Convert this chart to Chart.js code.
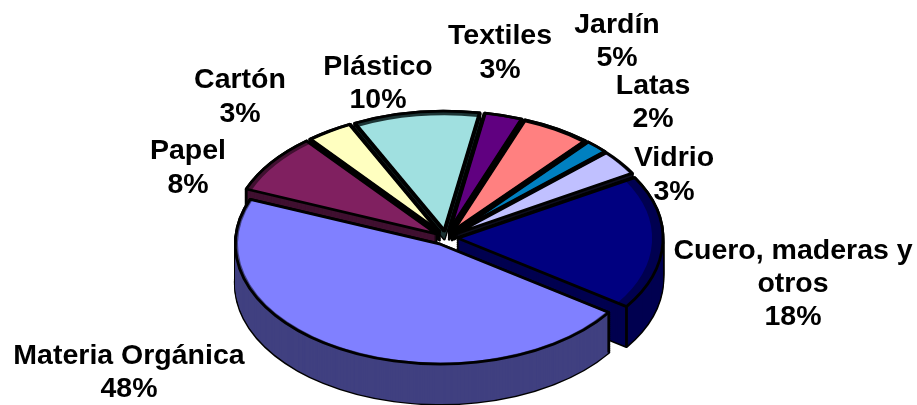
<!DOCTYPE html>
<html><head><meta charset="utf-8">
<style>html,body{margin:0;padding:0;background:#fff}#w{width:917px;height:405px}</style>
<script src="https://cdn.jsdelivr.net/npm/chart.js@4"></script></head>
<body><div id="w"><canvas id="c"></canvas></div>
<script>
const categories = ["Textiles","Jardín","Latas","Vidrio","Cuero, maderas y\notros","Materia Orgánica","Papel","Cartón","Plástico"];
const printedPercent = [3,5,2,3,18,48,8,3,10];
const sliceShares = [3.0,5.5,1.9,3.4,18.1,46.5,8.0,3.7,10.0];
const topColors = ["#600080","#FF8080","#0080C0","#C0C0FF","#000080","#8080FF","#802060","#FFFFC0","#A0E0E0"];
const sideColors = ["#000000","#000000","#000000","#101020","#000050","#404080","#401030","#000000","#1C3434"];
const sideDepths = [8,8,6,3,40,40,40,8,8];
const labelCenters = [[500,36.5],[617,25],[653,86],[674,158.5],[793,251],[129,356],[188,151.5],[240,80.5],[378,67]];

const tilt = 0.585, lineW = 2.8, edgeW = 4, lineStep = 33.3;
const sideOrder = [8,7,6,0,1,2,3,4,5];
const visibleCorners = [[4,'e'],[5,'s'],[6,'s']];
const heavyEdges = [0,1,2,7,8];

function geom(a){
  const p = a.getProps(['x','y','startAngle','endAngle','outerRadius']);
  const mid = (p.startAngle+p.endAngle)/2, off = (a.options.offset||0)/4;
  return {ax:p.x+Math.cos(mid)*off, ay:p.y+Math.sin(mid)*off*tilt, r:p.outerRadius+off, s:p.startAngle, e:p.endAngle};
}
function trace(ctx,g,d){
  ctx.beginPath();
  ctx.moveTo(g.ax,g.ay+d);
  ctx.ellipse(g.ax,g.ay+d,g.r,g.r*tilt,0,g.s,g.e);
  ctx.closePath();
}
const pie3d = {
  id:'pie3d',
  beforeDatasetDraw(chart,args){
    const ctx = chart.ctx, arcs = chart.getDatasetMeta(args.index).data;
    const cx = arcs[0].x, cy = arcs[0].y;
    ctx.save();
    ctx.lineJoin='round';
    sideOrder.forEach(i=>{
      const g = geom(arcs[i]), depth = sideDepths[i];
      ctx.strokeStyle='#000'; ctx.lineWidth=lineW;
      for(let d=depth;d>=0;d-=2){ trace(ctx,g,d); ctx.stroke(); }
      ctx.fillStyle=sideColors[i];
      for(let d=depth;d>=0;d-=1){ trace(ctx,g,d); ctx.fill(); }
      visibleCorners.filter(c=>c[0]===i).forEach(c=>{
        const t = c[1]==='s' ? g.s : g.e;
        const x=g.ax+Math.cos(t)*g.r, y=g.ay+Math.sin(t)*g.r*tilt;
        ctx.beginPath(); ctx.moveTo(x,y); ctx.lineTo(x,y+depth); ctx.stroke();
      });
    });
    ctx.restore();
    ctx.save();
    ctx.translate(cx,cy); ctx.scale(1,tilt); ctx.translate(-cx,-cy);
  },
  afterDatasetDraw(chart,args){
    const ctx = chart.ctx, arcs = chart.getDatasetMeta(args.index).data;
    ctx.restore();
    ctx.save();
    ctx.strokeStyle='#000'; ctx.lineWidth=lineW; ctx.lineJoin='round';
    arcs.forEach(a=>{ trace(ctx,geom(a),0); ctx.stroke(); });
    ctx.lineWidth=edgeW;
    heavyEdges.forEach(i=>{
      const g = geom(arcs[i]);
      [g.s,g.e].forEach(t=>{
        ctx.beginPath(); ctx.moveTo(g.ax,g.ay);
        ctx.lineTo(g.ax+Math.cos(t)*g.r, g.ay+Math.sin(t)*g.r*tilt); ctx.stroke();
      });
    });
    ctx.restore();
  },
  afterDraw(chart){
    const ctx = chart.ctx;
    ctx.save();
    ctx.font='bold 28.5px "Liberation Sans", Arial, sans-serif';
    ctx.fillStyle='#000'; ctx.textAlign='center'; ctx.textBaseline='middle';
    categories.forEach((c,i)=>{
      const lines = c.split('\n').concat(printedPercent[i]+'%');
      lines.forEach((t,j)=>ctx.fillText(t,labelCenters[i][0],labelCenters[i][1]+j*lineStep));
    });
    ctx.restore();
  }
};
new Chart(document.getElementById('c'),{
  type:'pie',
  data:{labels:categories,datasets:[{data:sliceShares,backgroundColor:topColors,borderWidth:0,offset:48,clip:false}]},
  options:{
    responsive:true,maintainAspectRatio:false,animation:false,
    rotation:10,radius:193,
    layout:{padding:{right:25,top:71}},
    plugins:{legend:{display:false},tooltip:{enabled:false}}
  },
  plugins:[pie3d]
});
</script></body></html>
